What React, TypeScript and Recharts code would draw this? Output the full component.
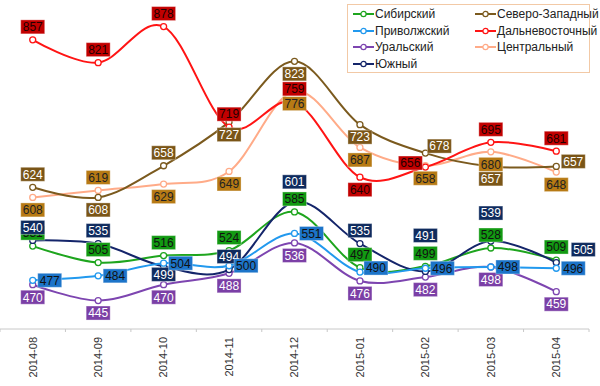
import React from 'react';
import { LineChart, Line, XAxis, YAxis, LabelList, Legend } from 'recharts';

// ---- data ----
const months = ['2014-08', '2014-09', '2014-10', '2014-11', '2014-12', '2015-01', '2015-02', '2015-03', '2015-04'];
const sibirsky = [531, 505, 516, 524, 585, 497, 499, 528, 509];
const severoZapadny = [624, 608, 658, 727, 823, 723, 678, 657, 657];
const privolzhsky = [477, 484, 504, 500, 551, 490, 496, 498, 496];
const dalnevostochny = [857, 821, 878, 719, 759, 640, 656, 695, 681];
const uralsky = [470, 445, 470, 488, 536, 476, 482, 498, 459];
const centralny = [608, 619, 629, 649, 776, 687, 658, 680, 648];
const yuzhny = [540, 535, 499, 494, 601, 535, 491, 539, 505];
const yDomain = [400, 920];

// ---- styles ----
type S = { key: string; name: string; values: number[]; color: string; bg: string; fg: string; place: string[] };
const series: S[] = [
  { key: 'sib', name: 'Сибирский', values: sibirsky, color: '#1ea51e', bg: '#129a12', fg: '#111', place: ['t', 't', 't', 't', 't', 't', 't', 't', 't'] },
  { key: 'sz', name: 'Северо-Западный', values: severoZapadny, color: '#7b5a1e', bg: '#7a5517', fg: '#fff', place: ['t', 'b', 't', 'b', 'b', 'b', 'r', 'b', 'r'] },
  { key: 'pri', name: 'Приволжский', values: privolzhsky, color: '#2299ee', bg: '#1c74c9', fg: '#111', place: ['r', 'r', 'r', 'r', 'r', 'r', 'r', 'r', 'r'] },
  { key: 'dal', name: 'Дальневосточный', values: dalnevostochny, color: '#ff1414', bg: '#c20000', fg: '#220000', place: ['t', 't', 't', 't', 't', 'b', 'l', 't', 't'] },
  { key: 'ural', name: 'Уральский', values: uralsky, color: '#7d45b0', bg: '#7b3fa6', fg: '#fff', place: ['b', 'b', 'b', 'b', 'b', 'b', 'b', 'b', 'b'] },
  { key: 'cen', name: 'Центральный', values: centralny, color: '#ffab88', bg: '#b77a14', fg: '#222', place: ['b', 't', 'b', 'b', 'b', 'b', 'b', 'b', 'b'] },
  { key: 'yug', name: 'Южный', values: yuzhny, color: '#14256a', bg: '#0f2b5e', fg: '#fff', place: ['t', 't', 'b', 't', 't', 't', 't', 't', 'r'] },
];
const drawOrder = ['cen', 'sz', 'dal', 'ural', 'sib', 'yug', 'pri'];
const nudges: Record<string, [number, number]> = {
  'sz-6': [14, -7], 'sz-8': [17, -5], 'dal-6': [-15, -4], 'pri-5': [16, -4],
  'yug-2': [0, 8], 'yug-4': [0, -20], 'yug-6': [0, -36], 'yug-7': [0, -28], 'yug-8': [27, -13],
};
const baseOffset: Record<string, [number, number]> = { t: [0, -13], b: [0, 12.5], r: [17, 0], l: [-17, 0] };

const chartData = months.map((m, i) => {
  const row: Record<string, any> = { month: m };
  series.forEach((s) => { row[s.key] = s.values[i]; });
  return row;
});

const FONT = '"Liberation Sans", Arial, sans-serif';
const W = 600, H = 386, RIGHT = 11, AXIS_H = 57;
const PAD = (W - RIGHT) / months.length / 2;

// cardinal (Catmull-Rom-like) curve factory
function cardinal(context: any) {
  const k = 1 / 6;
  let x0 = NaN, y0 = NaN, x1 = NaN, y1 = NaN, x2 = NaN, y2 = NaN, pt = 0, line: number = NaN;
  const bez = (x: number, y: number) => {
    context.bezierCurveTo(x1 + k * (x2 - x0), y1 + k * (y2 - y0), x2 + k * (x1 - x), y2 + k * (y1 - y), x2, y2);
  };
  return {
    areaStart() { line = 0; },
    areaEnd() { line = NaN; },
    lineStart() { x0 = x1 = x2 = y0 = y1 = y2 = NaN; pt = 0; },
    lineEnd() {
      if (pt === 2) context.lineTo(x2, y2);
      else if (pt === 3) bez(x1, y1);
      if (line || (line !== 0 && pt === 1)) context.closePath();
      line = 1 - line;
    },
    point(x: number, y: number) {
      x = +x; y = +y;
      if (pt === 0) { pt = 1; if (line) context.lineTo(x, y); else context.moveTo(x, y); }
      else if (pt === 1) { pt = 2; x1 = x; y1 = y; }
      else { pt = 3; bez(x, y); }
      x0 = x1; x1 = x2; x2 = x;
      y0 = y1; y1 = y2; y2 = y;
    },
  };
}

const makeLabel = (s: S) => (props: any) => {
  const { value, index } = props;
  const px = props.x ?? props.viewBox?.x;
  const py = props.y ?? props.viewBox?.y;
  if (px == null || py == null) return null;
  const off = nudges[`${s.key}-${index}`] || baseOffset[s.place[index]] || [0, -13];
  const cx = px + off[0];
  const cy = py + off[1];
  const w = 24, h = 14;
  return (
    <g>
      <rect x={cx - w / 2} y={cy - h / 2} width={w} height={h} fill={s.bg} stroke="rgba(255,255,255,0.35)" strokeWidth={1} />
      <text x={cx} y={cy} dy="0.36em" textAnchor="middle" fontFamily={FONT} fontSize={12} fill={s.fg}>{value}</text>
    </g>
  );
};

const MonthTick = (props: any) => {
  const { x, y, payload, index } = props;
  const last = index === months.length - 1;
  return (
    <g>
      <line x1={x - PAD} y1={y} x2={x - PAD} y2={y + 3} stroke="#c8c8c8" />
      {last && <line x1={x + PAD} y1={y} x2={x + PAD} y2={y + 3} stroke="#c8c8c8" />}
      <text transform={`translate(${x},${y + 8}) rotate(-90)`} textAnchor="end" dy="0.35em" fontFamily={FONT} fontSize={11} fill="#333">
        {payload.value}
      </text>
    </g>
  );
};

const LegendBox = () => (
  <div style={{ width: 243, height: 69, border: '1px solid #f2c9a6', boxSizing: 'border-box', position: 'relative', fontFamily: FONT, fontSize: 12, color: '#222', background: '#fff' }}>
    {series.map((s, i) => {
      const col = i % 2, row = Math.floor(i / 2);
      return (
        <div key={s.key} style={{ position: 'absolute', left: col === 0 ? 5 : 127, top: 1 + row * 16.7, height: 16, display: 'flex', alignItems: 'center', whiteSpace: 'nowrap' }}>
          <svg width={21} height={8} style={{ display: 'block' }}>
            <line x1={0} y1={4} x2={21} y2={4} stroke={s.color} strokeWidth={2} />
            <circle cx={10.5} cy={4} r={2.6} fill="#fff" stroke={s.color} strokeWidth={1.2} />
          </svg>
          <span style={{ marginLeft: 1 }}>{s.name}</span>
        </div>
      );
    })}
  </div>
);

const ordered = drawOrder.map((k) => series.find((s) => s.key === k)!);

export default function App() {
  return (
    <div style={{ position: 'absolute', left: 0, top: 0, width: W, height: H, background: '#fff' }}>
      <LineChart width={W} height={H} data={chartData} margin={{ top: 0, right: RIGHT, bottom: 0, left: 0 }}>
        <XAxis
          dataKey="month"
          interval={0}
          height={AXIS_H}
          padding={{ left: PAD, right: PAD }}
          axisLine={{ stroke: '#c8c8c8' }}
          tickLine={false}
          tickSize={0}
          tickMargin={0}
          tick={<MonthTick />}
        />
        <YAxis hide type="number" domain={yDomain} />
        {ordered.map((s) => (
          <Line
            key={s.key}
            dataKey={s.key}
            name={s.name}
            type={cardinal as any}
            stroke={s.color}
            strokeWidth={2}
            dot={{ r: 3, fill: '#fff', stroke: s.color, strokeWidth: 1.3 }}
            activeDot={false}
            isAnimationActive={false}
          />
        ))}
        {ordered.map((s) => (
          <Line
            key={s.key + '-lbl'}
            dataKey={s.key}
            stroke="none"
            dot={false}
            activeDot={false}
            legendType="none"
            isAnimationActive={false}
          >
            <LabelList dataKey={s.key} content={makeLabel(s)} />
          </Line>
        ))}
        <Legend
          content={<LegendBox />}
          layout="vertical"
          align="center"
          verticalAlign="middle"
          wrapperStyle={{ position: 'absolute', left: 347, top: 4, width: 243, height: 69 }}
        />
      </LineChart>
    </div>
  );
}
